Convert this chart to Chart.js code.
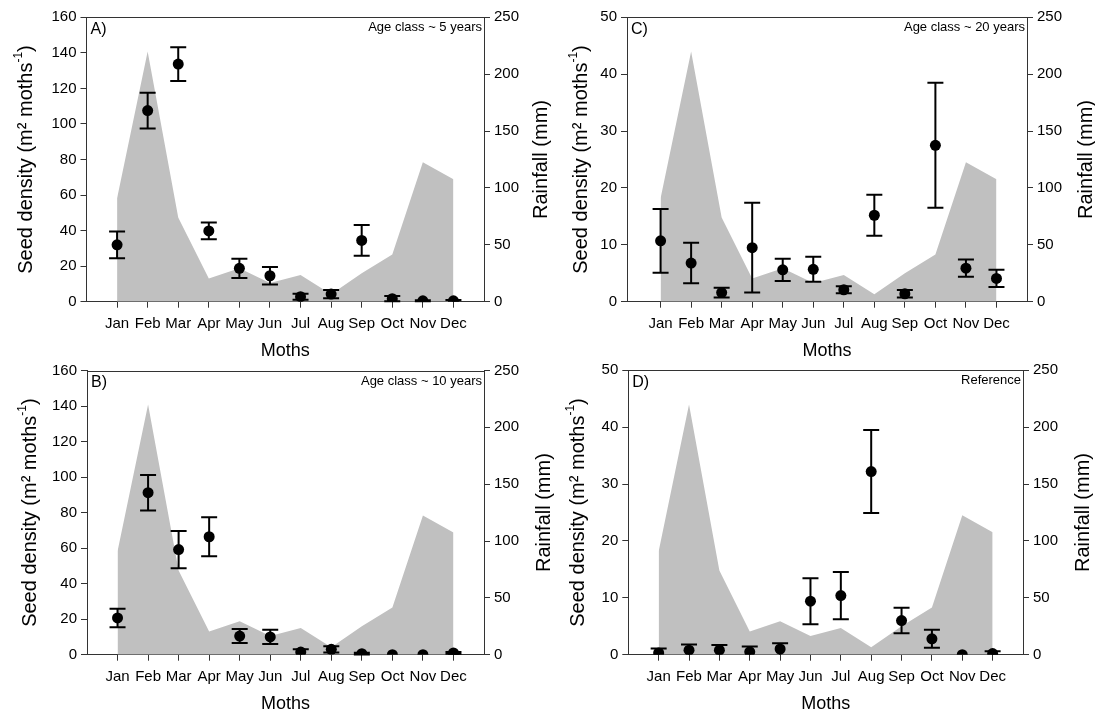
<!DOCTYPE html>
<html><head><meta charset="utf-8">
<script src="https://cdn.jsdelivr.net/npm/chart.js@4"></script>
<style>
html,body{margin:0;padding:0;background:#fff;}
#wrap{position:relative;width:1095px;height:714px;overflow:hidden;background:#fff;}
canvas{position:absolute;left:0;top:0;}
</style></head><body><div id="wrap">
<canvas id="cA" width="1095" height="714"></canvas>
<canvas id="cB" width="1095" height="714"></canvas>
<canvas id="cC" width="1095" height="714"></canvas>
<canvas id="cD" width="1095" height="714"></canvas>
</div>
<script>
// ---------- data ----------
const months = ['Jan','Feb','Mar','Apr','May','Jun','Jul','Aug','Sep','Oct','Nov','Dec'];
const rainfall = [91, 220, 74, 20.5, 29.5, 16.5, 23.4, 6.5, 25, 41.6, 122.5, 107.6];

const seedA = [32, 107.5, 133.7, 39.8, 18.8, 14.6, 2.8, 4.3, 34.5, 1.7, 0.5, 0.5];
const errA  = [7.5, 10, 9.5, 4.7, 5.4, 4.9, 1.7, 2.3, 8.6, 1.5, 0.3, 0.5];

const seedB = [20.7, 91.2, 59.2, 66.4, 10.5, 10, 1.5, 3.0, 0.6, 0, 0, 1.0];
const errB  = [5.2, 10, 10.5, 11, 3.9, 4, 1.5, 1.8, 0.5, 0, 0, 0.5];

const seedC = [10.7, 6.8, 1.6, 9.5, 5.6, 5.7, 2.1, 15.2, 1.4, 27.5, 5.9, 4.1];
const errC  = [5.6, 3.55, 0.85, 7.9, 1.95, 2.2, 0.6, 3.6, 0.65, 11, 1.5, 1.5];

const seedD = [0.3, 0.8, 0.8, 0.5, 1.0, 9.4, 10.4, 32.2, 6.0, 2.8, 0, 0.2];
const errD  = [0.8, 1.0, 0.9, 0.95, 1.0, 4.05, 4.15, 7.3, 2.25, 1.6, 0, 0.4];

const seedTicksAB = [0, 20, 40, 60, 80, 100, 120, 140, 160];
const seedTicksCD = [0, 10, 20, 30, 40, 50];
const rainTicks   = [0, 50, 100, 150, 200, 250];

const panelLabels = ['A)', 'B)', 'C)', 'D)'];
const panelNotes  = ['Age class ~ 5 years', 'Age class ~ 10 years', 'Age class ~ 20 years', 'Reference'];
const xTitle = 'Moths';
const yTitleMain = 'Seed density (m\u00B2 moths';
const yTitleSup = '-1';
const y2Title = 'Rainfall (mm)';

// ---------- styling / layout ----------
const FONT = '"Liberation Sans", Arial, sans-serif';
const AXIS = '#333';
const W = 1095, H = 714;

const errorBars = {
  id: 'errorBars',
  afterDatasetsDraw(chart, args, o) {
    const {ctx, scales: {x, y}} = chart;
    const data = chart.data.datasets[0].data;
    ctx.save();
    ctx.strokeStyle = '#000';
    ctx.lineWidth = 2;
    data.forEach((p, i) => {
      const e = o.errors[i];
      if (!e) return;
      const px = x.getPixelForValue(p.x);
      const top = y.getPixelForValue(p.y + e);
      const lowV = p.y - e;
      const bot = y.getPixelForValue(Math.max(0, lowV));
      ctx.beginPath();
      ctx.moveTo(px, top); ctx.lineTo(px, bot);
      ctx.moveTo(px - 8, top); ctx.lineTo(px + 8, top);
      if (lowV > 0) { ctx.moveTo(px - 8, bot); ctx.lineTo(px + 8, bot); }
      ctx.stroke();
    });
    ctx.restore();
  }
};

const decor = {
  id: 'decor',
  afterDraw(chart, args, o) {
    const {ctx, chartArea: a} = chart;
    ctx.save();
    ctx.strokeStyle = AXIS; ctx.lineWidth = 1;
    ctx.beginPath(); ctx.moveTo(a.left, Math.round(a.top) + 0.5); ctx.lineTo(a.right, Math.round(a.top) + 0.5); ctx.stroke();
    ctx.fillStyle = '#000';
    ctx.textBaseline = 'top';
    ctx.textAlign = 'left';
    ctx.font = '16px ' + FONT;
    ctx.fillText(o.label, a.left + 4, a.top + 4);
    ctx.font = '13px ' + FONT;
    ctx.textAlign = 'right';
    ctx.fillText(o.note, a.right - 2, a.top + 4);
    // x title
    ctx.font = '18px ' + FONT;
    ctx.textAlign = 'center'; ctx.textBaseline = 'middle';
    ctx.fillText(xTitle, (a.left + a.right) / 2, a.bottom + o.xTitleDy);
    // left title
    const cy = (a.top + a.bottom) / 2;
    ctx.save();
    ctx.translate(o.yTitleX, cy); ctx.rotate(-Math.PI / 2);
    ctx.textAlign = 'left'; ctx.textBaseline = 'middle';
    const fMain = '20px ' + FONT, fSup = '12px ' + FONT;
    ctx.font = fMain; const w1 = ctx.measureText(yTitleMain).width; const w3 = ctx.measureText(')').width;
    ctx.font = fSup; const w2 = ctx.measureText(yTitleSup).width;
    let sx = -(w1 + w2 + w3) / 2;
    ctx.font = fMain; ctx.fillText(yTitleMain, sx, 0); sx += w1;
    ctx.font = fSup; ctx.fillText(yTitleSup, sx, -7); sx += w2;
    ctx.font = fMain; ctx.fillText(')', sx, 0);
    ctx.restore();
    // right title
    ctx.save();
    ctx.translate(o.y2TitleX, cy); ctx.rotate(-Math.PI / 2);
    ctx.textAlign = 'center'; ctx.textBaseline = 'middle';
    ctx.font = '20px ' + FONT;
    ctx.fillText(y2Title, 0, 0);
    ctx.restore();
    ctx.restore();
  }
};

function makePanel(id, seed, err, seedTicks, geo, idx) {
  const yw = 60, xh = 40;
  const gridCommon = {drawOnChartArea: false, tickLength: 6, tickColor: AXIS, tickWidth: 1};
  new Chart(document.getElementById(id), {
    type: 'scatter',
    data: {
      datasets: [
        {
          type: 'scatter', yAxisID: 'y', order: 0,
          data: seed.map((v, i) => ({x: i + 1, y: v})),
          pointRadius: 5.5, pointHoverRadius: 5.5,
          backgroundColor: '#000', borderColor: '#000', borderWidth: 0
        },
        {
          type: 'line', yAxisID: 'y2', order: 1,
          data: rainfall.map((v, i) => ({x: i + 1, y: v})),
          fill: 'origin', backgroundColor: '#c0c0c0', borderWidth: 0, borderColor: 'rgba(0,0,0,0)',
          pointRadius: 0, tension: 0
        }
      ]
    },
    options: {
      responsive: false, animation: false, devicePixelRatio: 1,
      layout: {padding: {left: geo.L - yw, right: W - geo.R - yw, top: geo.T, bottom: H - geo.B - xh}},
      plugins: {
        legend: {display: false}, tooltip: {enabled: false},
        errorBars: {errors: err},
        decor: {label: panelLabels[idx], note: panelNotes[idx], yTitleX: geo.yt, y2TitleX: geo.y2t, xTitleDy: 49}
      },
      scales: {
        x: {
          type: 'linear', position: 'bottom', min: geo.xmin, max: 13,
          afterFit: s => { s.height = xh; },
          afterBuildTicks: s => { s.ticks = months.map((m, i) => ({value: i + 1})); },
          ticks: {autoSkip: false, maxRotation: 0, padding: 7, color: '#000', font: {family: FONT, size: 15},
                  callback: v => months[v - 1] || ''},
          grid: gridCommon,
          border: {display: true, color: AXIS, width: 1}
        },
        y: {
          position: 'left', min: seedTicks[0], max: seedTicks[seedTicks.length - 1],
          afterFit: s => { s.width = yw; },
          afterBuildTicks: s => { s.ticks = seedTicks.map(v => ({value: v})); },
          ticks: {padding: 4, color: '#000', font: {family: FONT, size: 15}},
          grid: gridCommon,
          border: {display: true, color: AXIS, width: 1}
        },
        y2: {
          position: 'right', min: rainTicks[0], max: rainTicks[rainTicks.length - 1],
          afterFit: s => { s.width = yw; },
          afterBuildTicks: s => { s.ticks = rainTicks.map(v => ({value: v})); },
          ticks: {padding: 4, color: '#000', font: {family: FONT, size: 15}},
          grid: gridCommon,
          border: {display: true, color: AXIS, width: 1}
        }
      }
    },
    plugins: [errorBars, decor]
  });
}

makePanel('cA', seedA, errA, seedTicksAB, {L: 86.5, R: 484, T: 17.3, B: 301.7, xmin: 0, yt: 26, y2t: 541}, 0);
makePanel('cB', seedB, errB, seedTicksAB, {L: 87, R: 484, T: 370.5, B: 654.7, xmin: 0, yt: 30, y2t: 544}, 1);
makePanel('cC', seedC, errC, seedTicksCD, {L: 627, R: 1027, T: 17.3, B: 301.7, xmin: -0.1, yt: 581, y2t: 1086}, 2);
makePanel('cD', seedD, errD, seedTicksCD, {L: 628.3, R: 1023, T: 370.3, B: 654.7, xmin: 0, yt: 578, y2t: 1083}, 3);
</script>
</body></html>
